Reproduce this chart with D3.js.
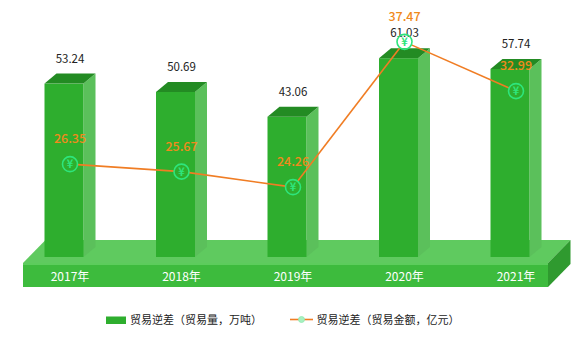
<!DOCTYPE html>
<html><head><meta charset="utf-8">
<script src="https://cdn.jsdelivr.net/npm/d3@7/dist/d3.min.js"></script>
<style>
html,body{margin:0;padding:0;background:#fff;}
svg{display:block;font-family:"Noto Sans CJK SC","Noto Sans",sans-serif;}
</style></head>
<body>
<svg id="c" width="586" height="341"></svg>
<script>
const years = ["2017年","2018年","2019年","2020年","2021年"];
const volume = [53.24, 50.69, 43.06, 61.03, 57.74];
const amount = [26.35, 25.67, 24.26, 37.47, 32.99];
const legendLabels = ["贸易逆差（贸易量，万吨）","贸易逆差（贸易金额，亿元）"];

const svg = d3.select("#c");
const x = d3.scaleBand().domain(years).range([14.25, 571.75]);
const y = d3.scaleLinear().domain([0, 70]).range([257, 29]);
const y2 = d3.scaleLinear().domain([20, 40]).range([234, 14]);
const cx = d => x(d) + x.bandwidth()/2;

// platform
const r0 = x.range()[0], r1 = x.range()[1];
const pfL = r0 + 8.75, pfR = r1 - 23.75, pdx = 22.5, pdy = 23;
const pTop = y(0) + 6, pBot = y(0) + 30;
const poly = pts => pts.map(p => p.join(",")).join(" ");
svg.append("polygon").attr("points", poly([[pfL+pdx,pTop-pdy],[pfR+pdx,pTop-pdy],[pfR,pTop],[pfL,pTop]])).attr("fill","#5fca5f");
svg.append("rect").attr("x",pfL).attr("y",pTop).attr("width",pfR-pfL).attr("height",pBot-pTop).attr("fill","#3dbb3d");
svg.append("rect").attr("x",pfL).attr("y",pTop).attr("width",pfR-pfL).attr("height",2).attr("fill","#5ccc5c");
svg.append("polygon").attr("points", poly([[pfR,pTop],[pfR+pdx,pTop-pdy],[pfR+pdx,pBot-pdy],[pfR,pBot]])).attr("fill","#2f9a2f");

// bars
const fw = 39, dx = 12, dy = 10;
const bars = svg.append("g").selectAll("g").data(years).join("g");
bars.each(function(d, i){
  const g = d3.select(this);
  const xl = cx(d) - 25.5, xr = xl + fw, yt = y(volume[i]), yb = y(0);
  g.append("polygon").attr("points", poly([[xr,yt],[xr+dx,yt-dy],[xr+dx,yb-dy],[xr,yb]])).attr("fill","#5bc05b");
  g.append("rect").attr("x",xl).attr("y",yt).attr("width",fw).attr("height",yb-yt).attr("fill","#2eae2e");
  g.append("polygon").attr("points", poly([[xl,yt],[xl+dx,yt-dy],[xr+dx,yt-dy],[xr,yt]])).attr("fill","#238b23");
});

// year labels
svg.append("g").selectAll("text").data(years).join("text")
  .attr("x", d => cx(d)).attr("y", pBot - 6).attr("text-anchor","middle")
  .attr("fill","#fff").attr("font-size",12).text(d => d);

// volume labels
svg.append("g").selectAll("text").data(years).join("text")
  .attr("x", d => cx(d)).attr("y", (d,i) => y(volume[i]) - 21).attr("text-anchor","middle")
  .attr("fill","#222").attr("font-size",11.5).text((d,i) => volume[i].toFixed(2));

// line segments trimmed at circles
const R = 7.5;
const pts = years.map((d,i) => [cx(d), y2(amount[i])]);
const line = d3.line();
const segs = d3.pairs(pts).map(([a,b]) => {
  const L = Math.hypot(b[0]-a[0], b[1]-a[1]);
  const ux = (b[0]-a[0])/L, uy = (b[1]-a[1])/L;
  return [[a[0]+ux*R, a[1]+uy*R],[b[0]-ux*R, b[1]-uy*R]];
});
svg.append("g").selectAll("path").data(segs).join("path")
  .attr("d", line).attr("fill","none").attr("stroke","#f07d24").attr("stroke-width",1.6);

const pg = svg.append("g").selectAll("g").data(pts).join("g");
pg.append("circle").attr("cx", d => d[0]).attr("cy", d => d[1]).attr("r", R)
  .attr("fill","none").attr("stroke","#2ee57c").attr("stroke-width",1.6);
pg.append("text").attr("x", d => d[0]).attr("y", d => d[1]+4).attr("text-anchor","middle")
  .attr("fill","#2ee57c").attr("font-size",11).attr("font-weight","bold").text("¥");

// amount labels
svg.append("g").selectAll("text").data(years).join("text")
  .attr("x", d => cx(d)).attr("y", (d,i) => y2(amount[i]) - 21).attr("text-anchor","middle")
  .attr("fill","#f08a1c").attr("font-size",12.5).attr("font-weight",500).text((d,i) => amount[i].toFixed(2));

// legend
const lg = svg.append("g");
lg.append("rect").attr("x",106).attr("y",316.5).attr("width",20).attr("height",7.5).attr("fill","#2eae2e");
lg.append("text").attr("x",130).attr("y",323.5).attr("font-size",11).attr("fill","#222").text(legendLabels[0]);
lg.append("line").attr("x1",290).attr("x2",313).attr("y1",319.5).attr("y2",319.5).attr("stroke","#f07d24").attr("stroke-width",1.6);
lg.append("circle").attr("cx",301.5).attr("cy",319.5).attr("r",3).attr("fill","#a8f0c0").attr("stroke","#8ee8b0").attr("stroke-width",0.8);
lg.append("text").attr("x",316.5).attr("y",323.5).attr("font-size",11).attr("fill","#222").text(legendLabels[1]);
</script>
</body></html>
